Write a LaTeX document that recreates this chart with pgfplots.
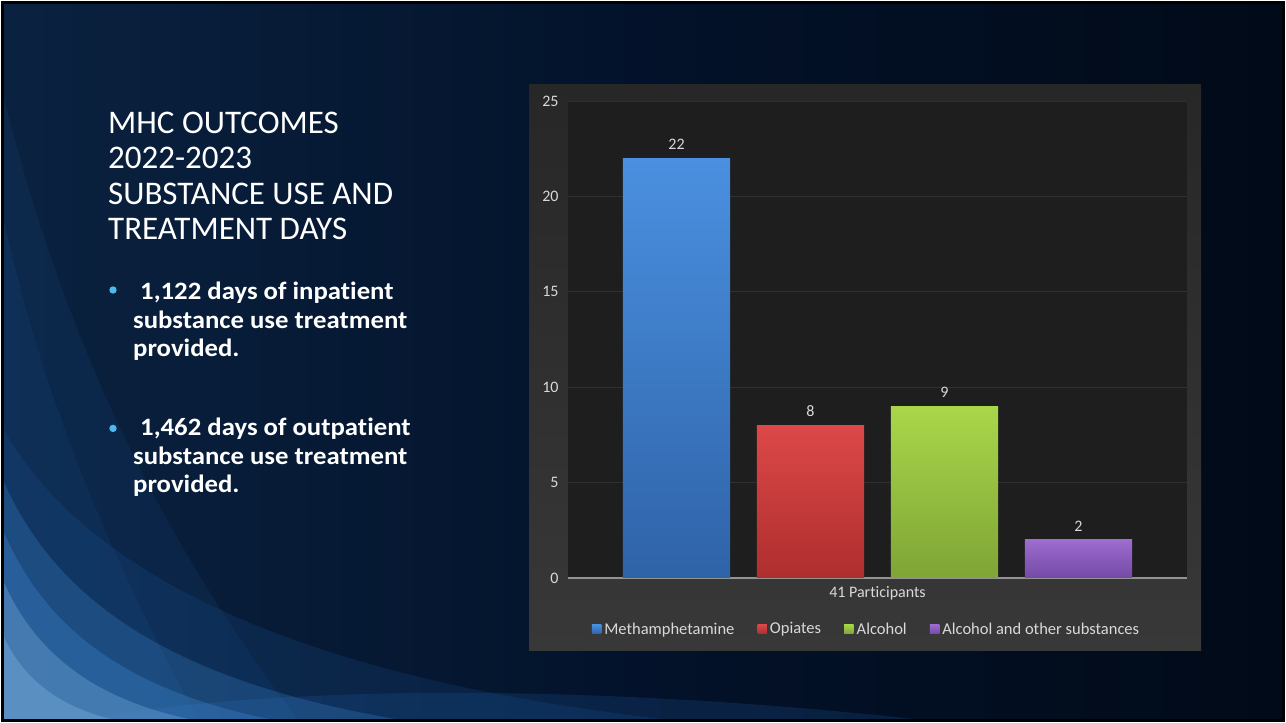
\documentclass[border=0pt]{standalone}
\usepackage{fontspec}
\setmainfont{Carlito}[Ligatures=NoCommon]
\usepackage{graphicx}
\usepackage{pgfplots}
\pgfplotsset{compat=1.18}
\definecolor{bgA}{HTML}{0A2240}
\definecolor{bgB}{HTML}{03122A}
\definecolor{bgC}{HTML}{010A18}
\definecolor{sw1}{HTML}{A8DAFF}
\definecolor{sw2}{HTML}{4A9BE8}
\definecolor{sw3}{HTML}{1F5FA8}
\definecolor{panelA}{HTML}{272727}
\definecolor{panelB}{HTML}{383838}
\definecolor{plotbg}{HTML}{1E1E1E}
\definecolor{gridc}{HTML}{303030}
\definecolor{txtc}{HTML}{D9D9D9}
\definecolor{blueT}{HTML}{4A90E0}
\definecolor{blueB}{HTML}{2F63A8}
\definecolor{redT}{HTML}{DD4848}
\definecolor{redB}{HTML}{AE2E2E}
\definecolor{greenT}{HTML}{AAD64A}
\definecolor{greenB}{HTML}{7EA536}
\definecolor{purpT}{HTML}{9C6CD0}
\definecolor{purpB}{HTML}{754AA5}
\definecolor{bullet}{HTML}{4FB8EE}
\newcommand{\wide}[1]{\scalebox{1.07}[1]{#1}}
\begin{document}
\begin{tikzpicture}
\useasboundingbox (0pt,0pt) rectangle (1286pt,723pt);
\begin{scope}
\clip (0pt,0pt) rectangle (1286pt,723pt);
\shade[left color=bgA, right color=bgC, middle color=bgB] (0pt,0pt) rectangle (1286pt,723pt);
% faint streaks along left edge
\fill[sw3, opacity=0.12] (0pt,640pt) .. controls (40pt,480pt) and (110pt,250pt) .. (300pt,0pt) -- (0pt,0pt) -- cycle;
\fill[sw3, opacity=0.12] (0pt,520pt) .. controls (30pt,380pt) and (80pt,220pt) .. (200pt,0pt) -- (0pt,0pt) -- cycle;
% bottom glow
\fill[sw3, opacity=0.22] (60pt,0pt) .. controls (300pt,45pt) and (650pt,35pt) .. (950pt,0pt) -- cycle;
\fill[sw3, opacity=0.18] (0pt,300pt) .. controls (80pt,150pt) and (300pt,40pt) .. (700pt,0pt) -- (0pt,0pt) -- cycle;
% bright corner
\fill[sw2, opacity=0.22] (0pt,250pt) .. controls (50pt,130pt) and (160pt,40pt) .. (420pt,0pt) -- (0pt,0pt) -- cycle;
\fill[sw2, opacity=0.25] (0pt,200pt) .. controls (40pt,100pt) and (120pt,30pt) .. (290pt,0pt) -- (0pt,0pt) -- cycle;
\fill[sw1, opacity=0.22] (0pt,150pt) .. controls (30pt,75pt) and (90pt,20pt) .. (210pt,0pt) -- (0pt,0pt) -- cycle;
\fill[sw1, opacity=0.22] (0pt,95pt) .. controls (20pt,45pt) and (60pt,12pt) .. (130pt,0pt) -- (0pt,0pt) -- cycle;
\end{scope}
\draw[black, line width=3pt] (2.5pt,2.5pt) rectangle (1283.5pt,720.5pt);
\draw[white, line width=1pt] (0.5pt,0.5pt) rectangle (1285.5pt,722.5pt);
% title
\begin{scope}[every node/.style={anchor=base west, inner sep=0pt, text=white, font=\fontsize{33}{36}\selectfont}]
\node at (108pt,589.7pt) {MHC OUTCOMES};
\node at (108pt,554pt) {2022-2023};
\node at (108pt,518.5pt) {SUBSTANCE USE AND};
\node at (108pt,483pt) {TREATMENT DAYS};
\end{scope}
\begin{scope}[every node/.style={anchor=base west, inner sep=0pt, text=white, font=\fontsize{25}{29}\selectfont\bfseries}]
\fill[bullet] (113pt,433pt) circle (3.7pt);
\node at (140pt,423.7pt) {\wide{1,122 days of inpatient}};
\node at (133pt,394.7pt) {\wide{substance use treatment}};
\node at (133pt,366pt) {\wide{provided.}};
\fill[bullet] (113pt,294.6pt) circle (3.7pt);
\node at (140pt,287.7pt) {\wide{1,462 days of outpatient}};
\node at (133pt,258.5pt) {\wide{substance use treatment}};
\node at (133pt,230pt) {\wide{provided.}};
\end{scope}
% chart panel
\shade[top color=panelA, bottom color=panelB] (529pt,72pt) rectangle (1201pt,638pt);
\begin{axis}[
  at={(568pt,145pt)}, anchor=south west,
  scale only axis, width=619pt, height=477pt,
  xmin=0.19, xmax=4.81, ymin=0, ymax=25,
  ybar, bar width=0.8,
  axis background/.style={fill=plotbg},
  axis x line*=bottom, axis y line*=left,
  x axis line style={draw=gray!85, line width=1.2pt, -},
  y axis line style={draw=none},
  ytick={0,5,10,15,20,25},
  xtick={2.5}, xticklabels={41 Participants},
  major tick length=0pt,
  ymajorgrids, major grid style={gridc, line width=0.8pt},
  /pgf/number format/assume math mode=true,
  tick label style={text=txtc, font=\fontsize{16}{18}\selectfont},
  yticklabel style={xshift=-6pt},
  xticklabel style={yshift=-5pt},
  nodes near coords,
  nodes near coords style={text=txtc, font=\fontsize{16}{18}\selectfont, yshift=5pt},
  legend style={at={(0.483,-0.107)}, anchor=center, legend columns=4, draw=none, fill=none,
    text=txtc, font=\fontsize{16.5}{18}\selectfont,
    nodes={inner xsep=3pt},
    /tikz/every even column/.append style={column sep=20pt}},
  legend image code/.code={\fill[#1] (0pt,-4.8pt) rectangle (9.6pt,4.8pt);},
]
\addplot[bar shift=0pt, draw=none, top color=blueT, bottom color=blueB] coordinates {(1,22)};
\addplot[bar shift=0pt, draw=none, top color=redT, bottom color=redB] coordinates {(2,8)};
\addplot[bar shift=0pt, draw=none, top color=greenT, bottom color=greenB] coordinates {(3,9)};
\addplot[bar shift=0pt, draw=none, top color=purpT, bottom color=purpB] coordinates {(4,2)};
\legend{Methamphetamine, Opiates, Alcohol, Alcohol and other substances}
\end{axis}
\end{tikzpicture}
\end{document}
